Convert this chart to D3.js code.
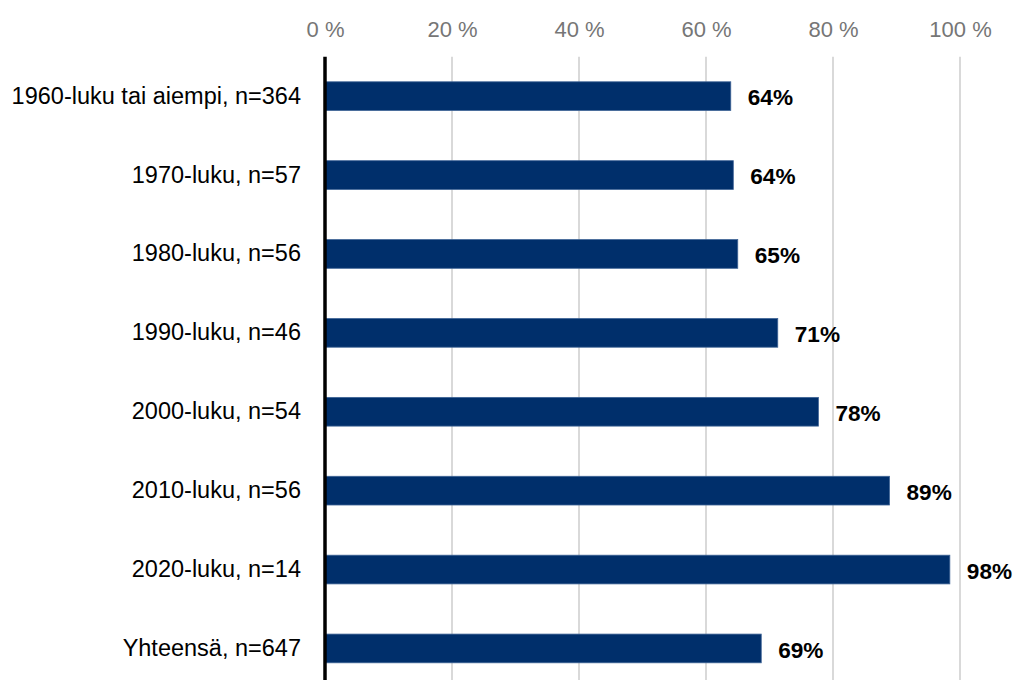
<!DOCTYPE html>
<html>
<head>
<meta charset="utf-8">
<script src="https://cdn.jsdelivr.net/npm/d3@7"></script>
<style>
  html, body { margin: 0; padding: 0; background: #fff; }
  svg { display: block; font-family: "Liberation Sans", Arial, sans-serif; }
</style>
</head>
<body>
<svg id="chart" width="1016" height="680"></svg>
<script>
// Share by construction decade
const categories = [
  "1960-luku tai aiempi, n=364",
  "1970-luku, n=57",
  "1980-luku, n=56",
  "1990-luku, n=46",
  "2000-luku, n=54",
  "2010-luku, n=56",
  "2020-luku, n=14",
  "Yhteensä, n=647"
];
const values = [63.9, 64.3, 65.0, 71.3, 77.7, 88.9, 98.4, 68.7];
const tickValues = [0, 20, 40, 60, 80, 100];

const svg = d3.select("#chart");
const plotLeft = 325, plotRight = 960, plotTop = 56.7, rowStep = 78.9;

const x = d3.scaleLinear().domain([0, 100]).range([plotLeft, plotRight]);
const y = d3.scaleBand()
  .domain(categories)
  .range([plotTop, plotTop + rowStep * categories.length])
  .paddingInner(0.636)
  .paddingOuter(0.318);

// vertical gridlines
svg.append("g")
  .selectAll("line")
  .data(tickValues.slice(1))
  .join("line")
  .attr("x1", d => x(d)).attr("x2", d => x(d))
  .attr("y1", plotTop).attr("y2", 680)
  .attr("stroke", "#d9d9d9")
  .attr("stroke-width", 2);

// top axis labels
const xAxis = d3.axisTop(x)
  .tickValues(tickValues)
  .tickFormat(d => d + " %")
  .tickSize(0)
  .tickPadding(0);
const gx = svg.append("g")
  .attr("transform", `translate(0,${plotTop - 20})`)
  .call(xAxis);
gx.select(".domain").remove();
gx.selectAll("text")
  .attr("fill", "#767676")
  .attr("font-size", 22)
  .attr("font-family", "'Liberation Sans', Arial, sans-serif");

// bars
svg.append("g")
  .selectAll("rect")
  .data(values)
  .join("rect")
  .attr("x", x(0))
  .attr("y", (d, i) => y(categories[i]))
  .attr("width", d => x(d) - x(0))
  .attr("height", y.bandwidth())
  .attr("fill", "#002f6b")
  .attr("stroke", "#3f6496")
  .attr("stroke-width", 0.8);

// value labels
svg.append("g")
  .selectAll("text")
  .data(values)
  .join("text")
  .attr("x", d => x(d) + 17)
  .attr("y", (d, i) => y(categories[i]) + y.bandwidth() / 2 + 1)
  .attr("dy", "0.36em")
  .attr("font-size", 22.6)
  .attr("font-weight", "bold")
  .attr("fill", "#000")
  .text(d => Math.round(d) + "%");

// category axis
const yAxis = d3.axisLeft(y).tickSize(0).tickPadding(24);
const gy = svg.append("g")
  .attr("transform", `translate(${plotLeft},0)`)
  .call(yAxis);
gy.select(".domain").remove();
gy.selectAll("text")
  .attr("fill", "#000")
  .attr("font-size", 23.5)
  .attr("font-family", "'Liberation Sans', Arial, sans-serif");

// zero line
svg.append("line")
  .attr("x1", x(0)).attr("x2", x(0))
  .attr("y1", plotTop).attr("y2", 680)
  .attr("stroke", "#000")
  .attr("stroke-width", 3.5);
</script>
</body>
</html>
